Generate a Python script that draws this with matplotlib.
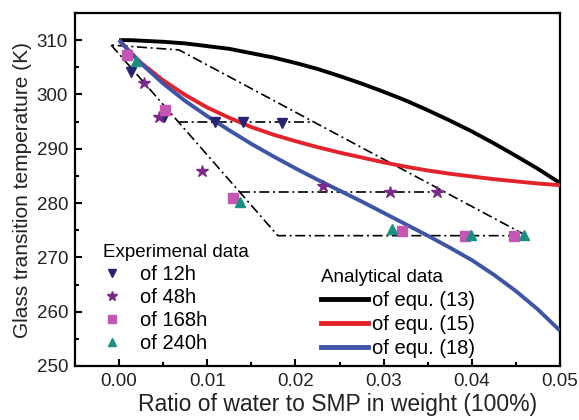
import matplotlib
matplotlib.use("Agg")
import matplotlib.pyplot as plt
from matplotlib.lines import Line2D
from matplotlib.ticker import MultipleLocator

plt.rcParams['font.family'] = ['Liberation Sans', 'DejaVu Sans']

# ---- data ----
x_curve = [0.0, 0.00125, 0.0025, 0.005, 0.0075, 0.01, 0.0125, 0.015, 0.0175, 0.02, 0.0225,
           0.025, 0.0275, 0.03, 0.0325, 0.035, 0.0375, 0.04, 0.0425, 0.045, 0.0475, 0.05]
eq13 = [310.0, 310.0, 309.9, 309.7, 309.4, 308.9, 308.4, 307.6, 306.8, 305.8, 304.7,
        303.4, 302.0, 300.5, 298.9, 297.1, 295.2, 293.2, 291.0, 288.7, 286.3, 283.7]
eq15 = [310.0, 307.8, 305.8, 302.6, 299.9, 297.6, 295.7, 294.0, 292.6, 291.4, 290.3,
        289.3, 288.4, 287.5, 286.7, 286.0, 285.4, 284.9, 284.4, 284.0, 283.6, 283.3]
eq18 = [310.0, 307.8, 305.7, 302.0, 298.8, 296.0, 293.4, 290.9, 288.6, 286.4, 284.3,
        282.3, 280.3, 278.2, 276.1, 274.0, 271.8, 269.5, 266.8, 263.8, 260.4, 256.5]

x_12h = [0.0013, 0.0051, 0.0109, 0.0141, 0.0185]
y_12h = [304.2, 295.9, 295.0, 295.0, 294.8]
x_48h = [0.0028, 0.0045, 0.0094, 0.0231, 0.0307, 0.0360]
y_48h = [302.1, 295.9, 285.9, 283.1, 282.0, 282.0]
x_168h = [0.0009, 0.0052, 0.0129, 0.0321, 0.0392, 0.0448]
y_168h = [307.2, 297.2, 281.0, 274.9, 274.0, 274.0]
x_240h = [0.0019, 0.0137, 0.0310, 0.0399, 0.0459]
y_240h = [306.2, 280.2, 275.2, 274.1, 274.1]

# guide (dash-dot) outline and horizontal levels
guide_x = [-0.0009, 0.0180, 0.0462, 0.0068, -0.0009]
guide_y = [309.1, 274.0, 274.0, 308.2, 309.1]
level_y = [295.0, 282.0]
level_x0 = [0.0067, 0.0137]
level_x1 = [0.0216, 0.0368]

exp_labels = ['of 12h', 'of 48h', 'of 168h', 'of 240h']
ana_labels = ['of equ. (13)', 'of equ. (15)', 'of equ. (18)']

# ---- styles ----
c_black = '#000000'
c_red = '#e3232b'
c_blue = '#3e55a6'
c_12 = '#262470'
c_48 = '#7a2a88'
c_168 = '#c556b4'
c_240 = '#1b8f80'

fig = plt.figure(figsize=(5.79, 4.20), dpi=100)
ax = fig.add_axes([75/579, 1-366/420, (560-75)/579, (366-13)/420])

dash = (0, (6, 2.2, 1.2, 2.2))
ax.plot(guide_x, guide_y, color='black', lw=1.2, linestyle=dash, zorder=2)
for yl, a, b in zip(level_y, level_x0, level_x1):
    ax.plot([a, b], [yl, yl], color='black', lw=1.2, linestyle=dash, zorder=2)

ax.plot(x_curve, eq13, color=c_black, lw=2.8, zorder=3, solid_capstyle='butt')
ax.plot(x_curve, eq15, color=c_red, lw=2.8, zorder=3, solid_capstyle='butt')
ax.plot(x_curve, eq18, color=c_blue, lw=2.8, zorder=3, solid_capstyle='butt')

ms = 7
ax.plot(x_12h, y_12h, 'v', color=c_12, ms=ms, ls='none', zorder=4)
ax.plot(x_48h, y_48h, '*', color=c_48, ms=ms+2, ls='none', zorder=4)
ax.plot(x_168h, y_168h, 's', color=c_168, ms=ms-0.5, ls='none', zorder=4)
ax.plot(x_240h, y_240h, '^', color=c_240, ms=ms, ls='none', zorder=4)

ax.set_xlim(-0.005, 0.05)
ax.set_ylim(250, 315)
ax.xaxis.set_minor_locator(MultipleLocator(0.005))
ax.yaxis.set_minor_locator(MultipleLocator(5))
ax.set_xticks([0.0, 0.01, 0.02, 0.03, 0.04, 0.05])
ax.set_xticklabels(['0.00', '0.01', '0.02', '0.03', '0.04', '0.05'])
ax.set_yticks([250, 260, 270, 280, 290, 300, 310])
ax.tick_params(which='both', direction='in', top=False, right=False, width=1.5,
               labelsize=13.5, labelcolor='#222222')
ax.tick_params(which='major', length=5, pad=5)
ax.tick_params(which='minor', length=3)
for s in ax.spines.values():
    s.set_linewidth(1.6)

ax.set_xlabel('Ratio of water to SMP in weight (100%)', fontsize=16.5, color='#222222')
ax.xaxis.set_label_coords((338-75)/485, -(393-366)/353)
ax.set_ylabel('Glass transition temperature (K)', fontsize=15, color='#222222', labelpad=3)

fs = 14.5
h_exp = [
    Line2D([], [], marker='v', color=c_12, ls='none', ms=ms-1),
    Line2D([], [], marker='*', color=c_48, ls='none', ms=ms),
    Line2D([], [], marker='s', color=c_168, ls='none', ms=ms-1.5),
    Line2D([], [], marker='^', color=c_240, ls='none', ms=ms-1),
]
leg1 = ax.legend(h_exp, exp_labels, title='Experimenal data', loc='upper left',
                 bbox_to_anchor=((103-75)/485, (366-244)/353), frameon=False,
                 borderpad=0, borderaxespad=0, handlelength=0.9, handletextpad=0.95,
                 labelspacing=0.2, fontsize=fs, title_fontsize=13.5, alignment='left')
ax.add_artist(leg1)

h_ana = [Line2D([], [], color=c, lw=3.5) for c in (c_black, c_red, c_blue)]
leg2 = ax.legend(h_ana, ana_labels, title='Analytical data', loc='upper left',
                 bbox_to_anchor=((321-75)/485, (366-269)/353), frameon=False,
                 borderpad=0, borderaxespad=0, handlelength=2.35, handletextpad=0.2,
                 labelspacing=0.25, fontsize=fs, title_fontsize=13.5, alignment='left')

fig.savefig('out.png', dpi=100)
